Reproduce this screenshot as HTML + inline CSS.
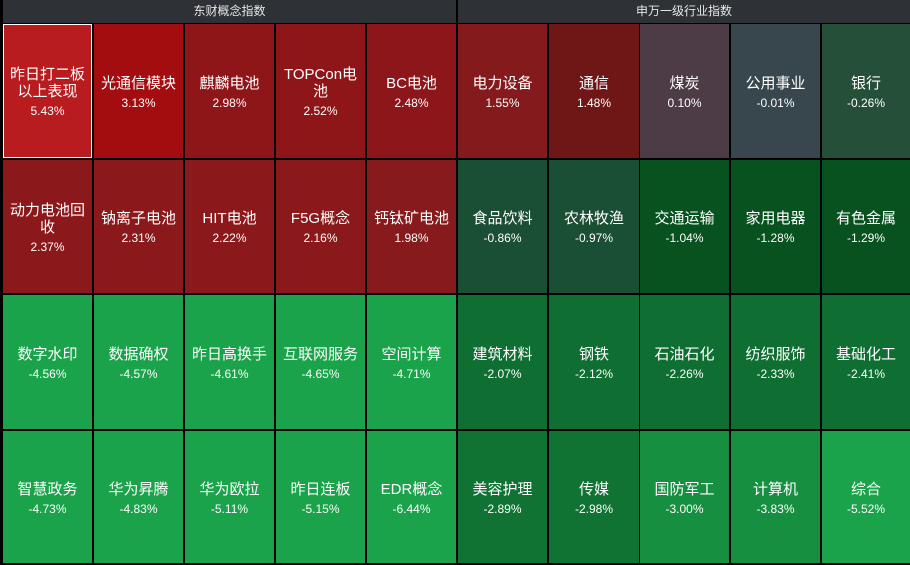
<!DOCTYPE html>
<html>
<head>
<meta charset="utf-8">
<style>
html,body{margin:0;padding:0;}
body{width:910px;height:565px;background:#000;position:relative;overflow:hidden;
font-family:"Liberation Sans","Noto Sans CJK SC","Microsoft YaHei",sans-serif;}
.hd{position:absolute;top:0;height:23px;background:#2e3236;color:#e6e6e6;font-size:12px;line-height:23px;text-align:center;}
.c{position:absolute;box-sizing:border-box;display:flex;flex-direction:column;align-items:center;justify-content:center;color:#fff;text-align:center;padding:0 3px;}
.c .in{transform:translateY(3px);}
.n{font-size:15px;line-height:17px;}
.p{font-size:12px;line-height:21px;margin-top:1px;}
</style>
</head>
<body>
<div class="hd" style="left:3px;width:453px;">东财概念指数</div>
<div class="hd" style="left:458px;width:452px;">申万一级行业指数</div>

<!-- Row 1 -->
<div class="c" style="left:3px;top:24px;width:89px;height:134px;background:#b81c1f;border:1px solid #fff;"><div class="in"><div class="n">昨日打二板以上表现</div><div class="p">5.43%</div></div></div>
<div class="c" style="left:94px;top:24px;width:89px;height:134px;background:#a30d10;"><div class="in"><div class="n">光通信模块</div><div class="p">3.13%</div></div></div>
<div class="c" style="left:185px;top:24px;width:89px;height:134px;background:#8f1618;"><div class="in"><div class="n">麒麟电池</div><div class="p">2.98%</div></div></div>
<div class="c" style="left:276px;top:24px;width:89px;height:134px;background:#8f1618;"><div class="in"><div class="n">TOPCon电池</div><div class="p">2.52%</div></div></div>
<div class="c" style="left:367px;top:24px;width:89px;height:134px;background:#8c1619;"><div class="in"><div class="n">BC电池</div><div class="p">2.48%</div></div></div>
<div class="c" style="left:458px;top:24px;width:89px;height:134px;background:#841a1b;"><div class="in"><div class="n">电力设备</div><div class="p">1.55%</div></div></div>
<div class="c" style="left:549px;top:24px;width:90px;height:134px;background:#6f1617;"><div class="in"><div class="n">通信</div><div class="p">1.48%</div></div></div>
<div class="c" style="left:640px;top:24px;width:89px;height:134px;background:#4d3b46;"><div class="in"><div class="n">煤炭</div><div class="p">0.10%</div></div></div>
<div class="c" style="left:731px;top:24px;width:89px;height:134px;background:#37474d;"><div class="in"><div class="n">公用事业</div><div class="p">-0.01%</div></div></div>
<div class="c" style="left:822px;top:24px;width:88px;height:134px;background:#254f39;"><div class="in"><div class="n">银行</div><div class="p">-0.26%</div></div></div>

<!-- Row 2 -->
<div class="c" style="left:3px;top:160px;width:89px;height:133px;background:#8b181a;"><div class="in"><div class="n">动力电池回收</div><div class="p">2.37%</div></div></div>
<div class="c" style="left:94px;top:160px;width:89px;height:133px;background:#8b181a;"><div class="in"><div class="n">钠离子电池</div><div class="p">2.31%</div></div></div>
<div class="c" style="left:185px;top:160px;width:89px;height:133px;background:#8b181a;"><div class="in"><div class="n">HIT电池</div><div class="p">2.22%</div></div></div>
<div class="c" style="left:276px;top:160px;width:89px;height:133px;background:#8b181a;"><div class="in"><div class="n">F5G概念</div><div class="p">2.16%</div></div></div>
<div class="c" style="left:367px;top:160px;width:89px;height:133px;background:#861a1c;"><div class="in"><div class="n">钙钛矿电池</div><div class="p">1.98%</div></div></div>
<div class="c" style="left:458px;top:160px;width:89px;height:133px;background:#1a4f33;"><div class="in"><div class="n">食品饮料</div><div class="p">-0.86%</div></div></div>
<div class="c" style="left:549px;top:160px;width:90px;height:133px;background:#1a4f33;"><div class="in"><div class="n">农林牧渔</div><div class="p">-0.97%</div></div></div>
<div class="c" style="left:640px;top:160px;width:89px;height:133px;background:#07521f;"><div class="in"><div class="n">交通运输</div><div class="p">-1.04%</div></div></div>
<div class="c" style="left:731px;top:160px;width:89px;height:133px;background:#07521f;"><div class="in"><div class="n">家用电器</div><div class="p">-1.28%</div></div></div>
<div class="c" style="left:822px;top:160px;width:88px;height:133px;background:#07521f;"><div class="in"><div class="n">有色金属</div><div class="p">-1.29%</div></div></div>

<!-- Row 3 -->
<div class="c" style="left:3px;top:295px;width:89px;height:134px;background:#1aa34a;"><div class="in"><div class="n">数字水印</div><div class="p">-4.56%</div></div></div>
<div class="c" style="left:94px;top:295px;width:89px;height:134px;background:#1aa34a;"><div class="in"><div class="n">数据确权</div><div class="p">-4.57%</div></div></div>
<div class="c" style="left:185px;top:295px;width:89px;height:134px;background:#1aa34a;"><div class="in"><div class="n">昨日高换手</div><div class="p">-4.61%</div></div></div>
<div class="c" style="left:276px;top:295px;width:89px;height:134px;background:#1aa34a;"><div class="in"><div class="n">互联网服务</div><div class="p">-4.65%</div></div></div>
<div class="c" style="left:367px;top:295px;width:89px;height:134px;background:#1aa34a;"><div class="in"><div class="n">空间计算</div><div class="p">-4.71%</div></div></div>
<div class="c" style="left:458px;top:295px;width:89px;height:134px;background:#0f6e31;"><div class="in"><div class="n">建筑材料</div><div class="p">-2.07%</div></div></div>
<div class="c" style="left:549px;top:295px;width:90px;height:134px;background:#0f6e31;"><div class="in"><div class="n">钢铁</div><div class="p">-2.12%</div></div></div>
<div class="c" style="left:640px;top:295px;width:89px;height:134px;background:#0f6e31;"><div class="in"><div class="n">石油石化</div><div class="p">-2.26%</div></div></div>
<div class="c" style="left:731px;top:295px;width:89px;height:134px;background:#0f6e31;"><div class="in"><div class="n">纺织服饰</div><div class="p">-2.33%</div></div></div>
<div class="c" style="left:822px;top:295px;width:88px;height:134px;background:#0f6e31;"><div class="in"><div class="n">基础化工</div><div class="p">-2.41%</div></div></div>

<!-- Row 4 -->
<div class="c" style="left:3px;top:431px;width:89px;height:132px;background:#1aa34a;"><div class="in"><div class="n">智慧政务</div><div class="p">-4.73%</div></div></div>
<div class="c" style="left:94px;top:431px;width:89px;height:132px;background:#1aa34a;"><div class="in"><div class="n">华为昇腾</div><div class="p">-4.83%</div></div></div>
<div class="c" style="left:185px;top:431px;width:89px;height:132px;background:#1aa34a;"><div class="in"><div class="n">华为欧拉</div><div class="p">-5.11%</div></div></div>
<div class="c" style="left:276px;top:431px;width:89px;height:132px;background:#1aa34a;"><div class="in"><div class="n">昨日连板</div><div class="p">-5.15%</div></div></div>
<div class="c" style="left:367px;top:431px;width:89px;height:132px;background:#1aa34a;"><div class="in"><div class="n">EDR概念</div><div class="p">-6.44%</div></div></div>
<div class="c" style="left:458px;top:431px;width:89px;height:132px;background:#117333;"><div class="in"><div class="n">美容护理</div><div class="p">-2.89%</div></div></div>
<div class="c" style="left:549px;top:431px;width:90px;height:132px;background:#117333;"><div class="in"><div class="n">传媒</div><div class="p">-2.98%</div></div></div>
<div class="c" style="left:640px;top:431px;width:89px;height:132px;background:#178f41;"><div class="in"><div class="n">国防军工</div><div class="p">-3.00%</div></div></div>
<div class="c" style="left:731px;top:431px;width:89px;height:132px;background:#178f41;"><div class="in"><div class="n">计算机</div><div class="p">-3.83%</div></div></div>
<div class="c" style="left:822px;top:431px;width:88px;height:132px;background:#1aa34a;"><div class="in"><div class="n">综合</div><div class="p">-5.52%</div></div></div>
</body>
</html>
